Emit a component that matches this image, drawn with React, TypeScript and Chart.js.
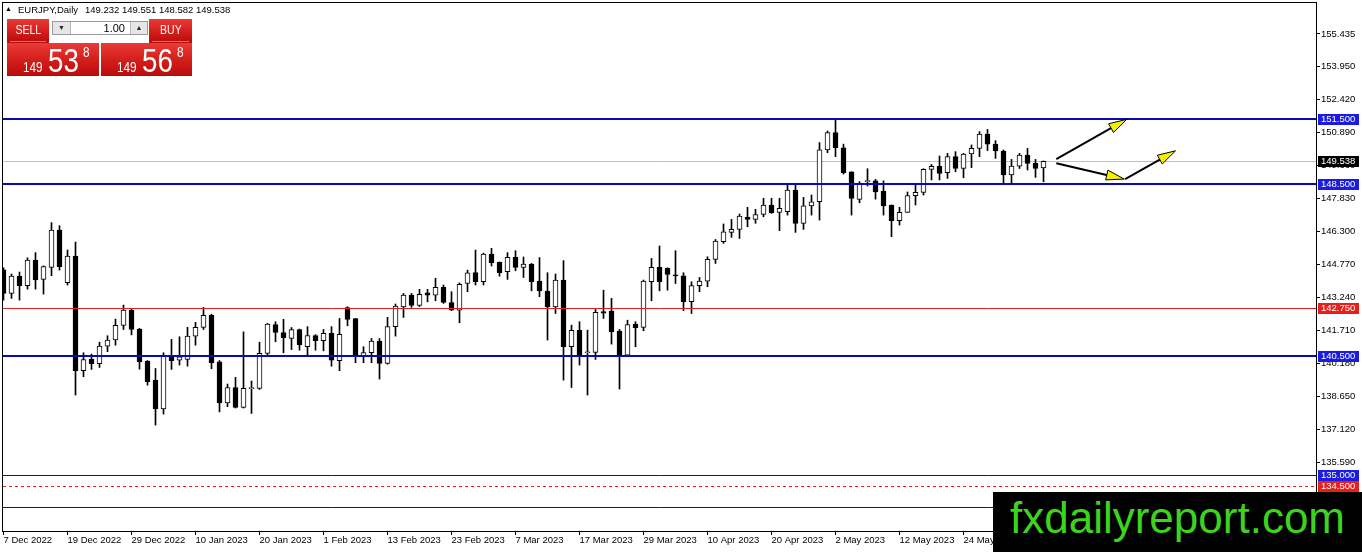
import React, { useEffect, useRef } from "react";
import { Chart, registerables } from "chart.js";

Chart.register(...registerables);

// ---------- DATA ----------
const symbolTitle = "EURJPY,Daily";

const opens = [
  144.5, 143.41, 144.21, 143.77, 144.96, 144.06, 144.62, 146.35, 143.91, 145.14,
  139.83, 140.37, 140.16, 140.97, 141.25, 141.93, 142.64, 141.76, 140.27, 139.39,
  138.06, 140.48, 140.32, 140.35, 141.43, 141.84, 142.4, 140.24, 138.34, 139.05,
  138.13, 139.0, 139.01, 140.63, 141.97, 141.6, 141.32, 141.74, 140.94, 141.46,
  141.22, 141.56, 140.29, 142.76, 142.24, 140.51, 140.67, 141.2, 140.17, 141.87,
  142.79, 143.33, 142.85, 143.44, 143.33, 143.69, 142.99, 142.64, 143.87, 144.38,
  143.95, 145.23, 144.85, 144.42, 145.08, 144.62, 144.77, 143.98, 143.52, 142.79,
  144.03, 140.94, 141.7, 140.66, 140.68, 142.57, 142.59, 141.66, 140.55, 141.99,
  141.84, 143.95, 144.62, 144.57, 144.23, 144.22, 143.03, 143.77, 143.98, 144.99,
  145.81, 146.24, 146.38, 146.94, 146.84, 147.07, 147.51, 147.17, 147.2, 148.2,
  146.66, 147.47, 147.66, 150.06, 150.87, 150.16, 149.05, 147.77, 148.59, 148.63,
  148.15, 147.51, 146.78, 147.17, 147.94, 148.09, 149.16, 149.3, 149.01, 149.75,
  149.2, 149.87, 150.13, 150.8, 150.33, 150.01, 148.9, 149.31, 149.82, 149.44,
  149.232,
];
const highs = [
  144.6, 144.31, 144.4, 145.06, 145.3, 144.69, 146.69, 146.55, 145.42, 145.79,
  140.66, 140.6, 141.15, 141.45, 142.22, 142.87, 142.7, 141.79, 140.3, 139.93,
  140.66, 141.28, 141.4, 141.84, 142.07, 142.76, 142.45, 140.3, 139.21, 139.52,
  141.63, 139.35, 141.15, 142.02, 142.1, 142.21, 141.83, 141.76, 141.87, 141.5,
  141.74, 141.87, 142.25, 142.79, 142.25, 140.94, 141.32, 141.32, 142.3, 142.92,
  143.41, 143.41, 143.6, 143.6, 144.11, 143.8, 143.49, 143.9, 144.49, 145.42,
  145.28, 145.5, 144.87, 145.3, 145.39, 145.1, 144.8, 145.07, 144.37, 144.31,
  144.93, 141.94, 142.1, 141.71, 142.67, 143.56, 143.18, 141.74, 142.17, 142.1,
  144.03, 145.03, 145.61, 144.6, 145.39, 144.37, 143.95, 144.15, 145.11, 145.91,
  146.63, 146.84, 147.09, 147.4, 147.31, 147.82, 147.82, 147.82, 148.43, 148.43,
  147.86, 147.97, 150.4, 150.94, 151.52, 150.33, 149.05, 148.59, 149.19, 148.7,
  148.63, 147.51, 147.4, 148.11, 148.51, 149.19, 149.39, 149.78, 149.9, 149.98,
  149.9, 150.29, 150.91, 151.01, 150.49, 150.06, 149.62, 149.9, 150.13, 149.62,
  149.551,
];
const lows = [
  143.1, 143.18, 143.1, 143.61, 143.61, 143.38, 144.23, 144.49, 143.8, 138.7,
  139.55, 139.89, 139.98, 140.71, 141.01, 141.74, 141.49, 139.9, 139.16, 137.31,
  137.82, 139.89, 140.09, 140.04, 141.01, 141.74, 139.92, 137.92, 138.16, 138.1,
  138.1, 137.85, 138.96, 140.48, 141.17, 140.66, 140.81, 140.78, 140.55, 140.78,
  140.75, 140.04, 139.83, 141.91, 140.2, 140.2, 140.2, 139.44, 140.13, 141.43,
  142.3, 142.76, 142.8, 143.02, 143.07, 142.95, 142.61, 142.05, 143.49, 143.8,
  143.8, 144.68, 144.21, 144.06, 144.46, 144.15, 143.53, 143.26, 141.25, 142.48,
  139.39, 139.05, 140.09, 138.7, 140.35, 142.25, 141.06, 138.98, 140.5, 140.94,
  141.68, 143.07, 143.53, 143.56, 143.87, 142.61, 142.48, 143.49, 143.72, 144.8,
  145.73, 146.01, 145.96, 146.5, 146.66, 146.96, 147.12, 146.32, 147.04, 146.24,
  146.38, 147.04, 146.81, 149.93, 149.75, 148.94, 147.04, 147.61, 148.39, 147.78,
  147.04, 146.04, 146.58, 147.17, 147.51, 147.97, 148.67, 148.67, 148.74, 149.05,
  148.77, 149.24, 149.75, 150.03, 149.67, 148.54, 148.54, 149.2, 149.13, 148.79,
  148.582,
];
const closes = [
  143.41, 144.21, 143.77, 144.96, 144.04, 144.65, 146.35, 144.65, 145.14, 139.83,
  140.35, 140.16, 140.97, 141.25, 141.93, 142.64, 141.74, 140.24, 139.32, 138.06,
  140.52, 140.29, 140.47, 141.43, 141.84, 142.39, 140.2, 138.34, 139.05, 138.13,
  139.01, 139.02, 140.63, 141.99, 141.6, 141.36, 141.74, 141.02, 141.46, 141.22,
  141.56, 140.32, 141.51, 142.21, 140.51, 140.67, 141.2, 140.17, 141.87, 142.82,
  143.33, 142.85, 143.37, 143.33, 143.69, 142.99, 142.64, 143.83, 144.37, 143.95,
  145.23, 144.83, 144.37, 145.08, 144.62, 144.77, 143.95, 143.53, 142.79, 144.03,
  140.94, 141.7, 140.55, 140.68, 142.53, 142.5, 141.63, 140.55, 141.97, 141.82,
  143.98, 144.62, 143.95, 144.29, 144.22, 143.03, 143.77, 143.98, 144.99, 145.84,
  146.27, 146.38, 147.0, 146.84, 147.07, 147.51, 147.15, 147.35, 148.2, 146.66,
  147.47, 147.66, 150.06, 150.87, 150.16, 149.01, 147.81, 148.48, 148.61, 148.12,
  147.46, 146.78, 147.17, 147.94, 148.09, 149.16, 149.3, 148.97, 149.75, 149.2,
  149.87, 150.13, 150.8, 150.33, 150.01, 148.9, 149.31, 149.82, 149.44, 149.2,
  149.538,
];

const dateTickIndex = [0, 8, 16, 24, 32, 40, 48, 56, 64, 72, 80, 88, 96, 104, 112, 120, 128];
const dateTickLabels = [
  "7 Dec 2022", "19 Dec 2022", "29 Dec 2022", "10 Jan 2023", "20 Jan 2023",
  "1 Feb 2023", "13 Feb 2023", "23 Feb 2023", "7 Mar 2023", "17 Mar 2023",
  "29 Mar 2023", "10 Apr 2023", "20 Apr 2023", "2 May 2023", "12 May 2023",
  "24 May 2023", "5 Jun 2023",
];

const priceTickValues = [
  135.59, 137.12, 138.65, 140.18, 141.71, 143.24, 144.77, 146.3, 147.83,
  149.36, 150.89, 152.42, 153.95, 155.435,
];

const levelPrices = [151.5, 148.5, 142.75, 140.5, 135.0, 134.5, 133.5];
const levelKinds = ["major", "major", "red", "major", "thin", "dash", "thin"];

const arrowFromIndex = [131.6, 131.6, 140.2];
const arrowFromPrice = [149.64, 149.44, 148.71];
const arrowToIndex = [140.4, 140.1, 146.5];
const arrowToPrice = [151.48, 148.71, 150.02];

const sellPrice = ["149", "53", "8"];
const buyPrice = ["149", "56", "8"];
const lotSize = "1.00";

// ---------- STYLES ----------
const levelStyle: Record<string, { color: string; width: number; dash: number[]; label: string }> = {
  major: { color: "#0a0ab4", width: 2, dash: [], label: "#1c1ce0" },
  red: { color: "#e3201b", width: 1, dash: [], label: "#e8201c" },
  thin: { color: "#10108c", width: 1, dash: [], label: "#1c1ce0" },
  dash: { color: "#e3201b", width: 1, dash: [3, 3], label: "#e8201c" },
};

const AXIS_FONT = "'Liberation Sans', Arial, sans-serif";
const RED_GRAD = "linear-gradient(to bottom, #ea3b36 0%, #d21d1a 55%, #b80c0b 100%)";

const overlayPlugin = {
  id: "mt4Overlay",
  beforeDatasetsDraw(chart: any) {
    const { ctx, chartArea: a, scales } = chart;
    const py = Math.round(scales.y.getPixelForValue(closes[closes.length - 1])) + 0.5;
    ctx.save();
    ctx.strokeStyle = "#c0c0c0";
    ctx.lineWidth = 1;
    ctx.beginPath();
    ctx.moveTo(a.left, py);
    ctx.lineTo(a.right, py);
    ctx.stroke();
    ctx.restore();
  },
  afterDatasetsDraw(chart: any) {
    const { ctx, chartArea: a, scales } = chart;
    const { x, y } = scales;
    ctx.save();
    ctx.beginPath();
    ctx.rect(a.left, a.top, a.right - a.left, a.bottom - a.top);
    ctx.clip();
    levelPrices.forEach((p, i) => {
      const st = levelStyle[levelKinds[i]];
      const raw = y.getPixelForValue(p);
      const py = st.width === 2 ? Math.round(raw) : Math.round(raw) + 0.5;
      ctx.strokeStyle = st.color;
      ctx.lineWidth = st.width;
      ctx.setLineDash(st.dash);
      ctx.beginPath();
      ctx.moveTo(a.left, py);
      ctx.lineTo(a.right, py);
      ctx.stroke();
    });
    ctx.setLineDash([]);
    arrowFromIndex.forEach((fi, i) => {
      const x0 = x.getPixelForValue(fi);
      const y0 = y.getPixelForValue(arrowFromPrice[i]);
      const x1 = x.getPixelForValue(arrowToIndex[i]);
      const y1 = y.getPixelForValue(arrowToPrice[i]);
      const dx = x1 - x0;
      const dy = y1 - y0;
      const len = Math.sqrt(dx * dx + dy * dy);
      const ux = dx / len;
      const uy = dy / len;
      const headLen = 18;
      const headHalf = 5;
      const bx = x1 - ux * headLen;
      const by = y1 - uy * headLen;
      ctx.strokeStyle = "#000";
      ctx.lineWidth = 2;
      ctx.beginPath();
      ctx.moveTo(x0, y0);
      ctx.lineTo(bx + ux * 2, by + uy * 2);
      ctx.stroke();
      ctx.beginPath();
      ctx.moveTo(x1, y1);
      ctx.lineTo(bx - uy * headHalf, by + ux * headHalf);
      ctx.lineTo(bx + uy * headHalf, by - ux * headHalf);
      ctx.closePath();
      ctx.fillStyle = "#f4f000";
      ctx.fill();
      ctx.lineWidth = 1;
      ctx.strokeStyle = "#000";
      ctx.stroke();
    });
    ctx.restore();
  },
  afterDraw(chart: any) {
    const { ctx, chartArea: a, scales } = chart;
    const { y } = scales;
    ctx.save();
    ctx.strokeStyle = "#000";
    ctx.lineWidth = 1;
    ctx.strokeRect(a.left - 0.5, a.top - 0.5, a.right - a.left + 1, a.bottom - a.top + 1);
    ctx.font = `9.5px ${AXIS_FONT}`;
    ctx.textBaseline = "middle";
    ctx.textAlign = "left";
    const box = (price: number, bg: string) => {
      const py = Math.round(y.getPixelForValue(price));
      ctx.fillStyle = bg;
      ctx.fillRect(a.right + 2, py - 5, 41, 11);
      ctx.fillStyle = "#fff";
      ctx.fillText(price.toFixed(3), a.right + 5, py + 0.5);
    };
    levelPrices.forEach((p, i) => box(p, levelStyle[levelKinds[i]].label));
    box(closes[closes.length - 1], "#000");
    ctx.restore();
  },
};

function CandleChart() {
  const ref = useRef<HTMLCanvasElement | null>(null);
  useEffect(() => {
    if (!ref.current) return;
    const bodyColors = opens.map((o, i) => (closes[i] >= o ? "#ffffff" : "#000000"));
    const chart = new Chart(ref.current, {
      type: "bar",
      data: {
        datasets: [
          {
            label: "body",
            data: opens.map((o, i) => ({ x: i, y: [o, closes[i]] })) as any,
            backgroundColor: bodyColors,
            borderColor: "#000",
            borderWidth: 1,
            borderSkipped: false,
            barThickness: 5,
            minBarLength: 1,
            grouped: false,
            order: 0,
          } as any,
          {
            label: "wick",
            data: lows.map((l, i) => ({ x: i, y: [l, highs[i]] })) as any,
            backgroundColor: "#000",
            borderWidth: 0,
            barThickness: 1,
            grouped: false,
            order: 1,
          } as any,
        ],
      },
      options: {
        animation: false,
        responsive: false,
        devicePixelRatio: 1,
        layout: { padding: { left: 3, top: 3, right: 0, bottom: 0 } },
        plugins: { legend: { display: false }, tooltip: { enabled: false } },
        scales: {
          x: {
            type: "linear",
            position: "bottom",
            min: -0.0625,
            max: 164.0625,
            bounds: "data",
            offset: false,
            grid: { drawOnChartArea: false, drawTicks: true, tickLength: 4, color: "#000", offset: false },
            border: { display: false },
            ticks: {
              autoSkip: false,
              maxRotation: 0,
              minRotation: 0,
              align: "start",
              padding: 0,
              color: "#000",
              font: { family: AXIS_FONT, size: 9.5 },
              callback: (v: any) => {
                const k = dateTickIndex.indexOf(Number(v));
                return k >= 0 ? dateTickLabels[k] : "";
              },
            },
            afterBuildTicks: (s: any) => {
              s.ticks = dateTickIndex.map((v) => ({ value: v }));
            },
            afterFit: (s: any) => {
              s.height = 21;
              s.paddingLeft = 0;
              s.paddingRight = 0;
            },
          } as any,
          y: {
            type: "linear",
            position: "right",
            min: 132.4,
            max: 156.87,
            bounds: "data",
            beginAtZero: false,
            grid: { drawOnChartArea: false, drawTicks: true, tickLength: 4, color: "#000" },
            border: { display: false },
            ticks: {
              padding: 1,
              color: "#000",
              font: { family: AXIS_FONT, size: 9.5 },
              callback: (v: any) => Number(v).toFixed(3),
            },
            afterBuildTicks: (s: any) => {
              s.ticks = priceTickValues.map((v) => ({ value: v }));
            },
            afterFit: (s: any) => {
              s.width = 46;
              s.paddingTop = 0;
              s.paddingBottom = 0;
            },
          } as any,
        },
      },
      plugins: [overlayPlugin],
    });
    return () => chart.destroy();
  }, []);
  return <canvas ref={ref} width={1362} height={552} style={{ position: "absolute", left: 0, top: 0 }} />;
}

const squeeze = (origin: string): React.CSSProperties => ({
  display: "inline-block",
  transform: "scaleX(0.84)",
  transformOrigin: origin,
});

function PriceBox({ left, width, parts }: { left: number; width: number; parts: string[] }) {
  const txt: React.CSSProperties = { position: "absolute", fontFamily: AXIS_FONT, color: "#fff", whiteSpace: "nowrap" };
  return (
    <div style={{ position: "absolute", left, top: 43, width, height: 33, background: RED_GRAD }}>
      <span style={{ ...txt, left: 16, top: 17, fontSize: 14, lineHeight: "14px" }}>
        <span style={squeeze("left")}>{parts[0]}</span>
      </span>
      <span style={{ ...txt, left: 41, top: 1, fontSize: 33, lineHeight: "33px" }}>
        <span style={squeeze("left")}>{parts[1]}</span>
      </span>
      <span style={{ ...txt, left: 76, top: 2, fontSize: 14, lineHeight: "14px" }}>
        <span style={squeeze("left")}>{parts[2]}</span>
      </span>
    </div>
  );
}

function TradePanel() {
  const tab = (left: number, width: number, text: string) => (
    <div
      style={{
        position: "absolute", left, top: 19, width, height: 24, background: RED_GRAD,
        color: "#fff", fontFamily: AXIS_FONT, fontSize: 12.5, lineHeight: "23px", textAlign: "center",
      }}
    >
      <span style={squeeze("center")}>{text}</span>
      <div style={{ position: "absolute", left: 3, right: 3, top: 22, height: 1, background: "rgba(255,190,190,0.55)" }} />
    </div>
  );
  return (
    <>
      {tab(7, 42, "SELL")}
      {tab(149, 43, "BUY")}
      <div style={{ position: "absolute", left: 52, top: 21, width: 94, height: 12, border: "1px solid #9a9a9a", background: "#fff" }}>
        <div style={{ position: "absolute", left: 0, top: 0, width: 17, height: 12, background: "#e6e6e6", borderRight: "1px solid #b8b8b8", fontSize: 7, lineHeight: "12px", textAlign: "center", color: "#222" }}>▼</div>
        <div style={{ position: "absolute", left: 19, width: 53, top: 0, height: 12, fontFamily: AXIS_FONT, fontSize: 11, lineHeight: "12px", textAlign: "right", color: "#000" }}>{lotSize}</div>
        <div style={{ position: "absolute", right: 0, top: 0, width: 16, height: 12, background: "#e6e6e6", borderLeft: "1px solid #b8b8b8", fontSize: 7, lineHeight: "12px", textAlign: "center", color: "#222" }}>▲</div>
      </div>
      <PriceBox left={7} width={92} parts={sellPrice} />
      <PriceBox left={101} width={91} parts={buyPrice} />
    </>
  );
}

export default function App() {
  const o = opens[opens.length - 1].toFixed(3);
  const h = highs[highs.length - 1].toFixed(3);
  const l = lows[lows.length - 1].toFixed(3);
  const c = closes[closes.length - 1].toFixed(3);
  return (
    <div style={{ position: "fixed", left: 0, top: 0, width: 1362, height: 552, background: "#fff", overflow: "hidden" }}>
      <CandleChart />
      <div style={{ position: "absolute", left: 5, top: 5, fontSize: 7, lineHeight: "9px", color: "#000" }}>▲</div>
      <div style={{ position: "absolute", left: 18, top: 4, fontFamily: AXIS_FONT, fontSize: 9.5, lineHeight: "12px", color: "#000", whiteSpace: "pre" }}>
        {symbolTitle}
      </div>
      <div style={{ position: "absolute", left: 85, top: 4, fontFamily: AXIS_FONT, fontSize: 9.5, lineHeight: "12px", color: "#000", whiteSpace: "pre" }}>
        {`${o} ${h} ${l} ${c}`}
      </div>
      <TradePanel />
      <div style={{ position: "absolute", left: 993, top: 492, width: 369, height: 60, background: "#000" }}>
        <div style={{ position: "absolute", left: 17, top: 4, fontFamily: AXIS_FONT, fontSize: 44, lineHeight: "44px", color: "#3dd41e", whiteSpace: "nowrap" }}>
          fxdailyreport.com
        </div>
      </div>
    </div>
  );
}
